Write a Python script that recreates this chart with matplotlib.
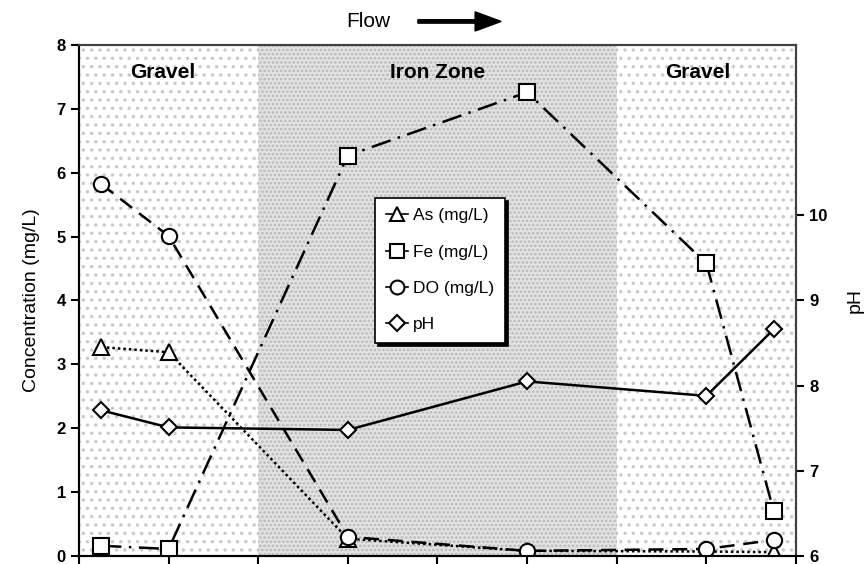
import matplotlib.pyplot as plt
from matplotlib.lines import Line2D
from matplotlib.patches import FancyArrow

plt.rcParams['font.family'] = ['Liberation Sans', 'DejaVu Sans']
plt.rcParams['hatch.linewidth'] = 1.2

# sampling positions along the flow path
dist = [0.25, 1, 3, 5, 7, 7.75]

as_conc = [3.27, 3.19, 0.27, 0.08, 0.07, 0.06]
fe_conc = [0.16, 0.11, 6.27, 7.26, 4.58, 0.71]
do_conc = [5.82, 5.01, 0.30, 0.08, 0.11, 0.25]
ph_vals = [7.71, 7.51, 7.48, 8.05, 7.88, 8.66]

zones = [(0, 2, 'Gravel'), (2, 6, 'Iron Zone'), (6, 8, 'Gravel')]
zone_label_x = [0.93, 4.0, 6.9]

fig = plt.figure(figsize=(8.67, 5.64), dpi=100)
ax = fig.add_axes([0.0911, 0.0142, 0.827, 0.906])

# zone backgrounds
for (x0, x1, name), lx in zip(zones, zone_label_x):
    if name == 'Iron Zone':
        ax.axvspan(x0, x1, facecolor='#e2e2e2', edgecolor='#b8b8b8', hatch='....', lw=0, zorder=0)
    else:
        ax.axvspan(x0, x1, facecolor='white', edgecolor='#c8c8c8', hatch='..', lw=0, zorder=0)
    ax.text(lx, 7.57, name, ha='center', va='center', fontsize=15, fontweight='bold', zorder=5)

mk = dict(markerfacecolor='white', markeredgecolor='black', markeredgewidth=1.5, color='black', lw=1.8)
ax.plot(dist, as_conc, linestyle=(0, (1, 1.2)), marker='^', markersize=11, zorder=3, **mk)
ax.plot(dist, fe_conc, linestyle=(0, (8, 3, 1, 3)), marker='s', markersize=11, zorder=3, **mk)
ax.plot(dist, do_conc, linestyle=(0, (6, 3.5)), marker='o', markersize=11, zorder=3, **mk)

ax.set_xlim(0, 8)
ax.set_ylim(0, 8)
ax.set_xticks(range(9))
ax.set_xticklabels([])
ax.set_yticks(range(9))
ax.tick_params(axis='both', direction='out', length=6, width=1.5, labelsize=12)
for lab in ax.get_yticklabels():
    lab.set_fontweight('bold')
ax.set_ylabel('Concentration (mg/L)', fontsize=14, labelpad=12)

ax2 = ax.twinx()
ax2.plot(dist, ph_vals, linestyle='-', marker='D', markersize=8, zorder=3, **mk)
ax2.set_ylim(6, 12)
ax2.set_yticks([6, 7, 8, 9, 10])
ax2.tick_params(axis='y', direction='out', length=6, width=1.5, labelsize=12)
for lab in ax2.get_yticklabels():
    lab.set_fontweight('bold')
ax2.set_ylabel('pH', fontsize=14, labelpad=14)

for a in (ax, ax2):
    for s in a.spines.values():
        s.set_linewidth(1.5)
    a.spines['top'].set_color('#404040')
    a.spines['right'].set_color('#404040')

leg_mk = {**mk, 'lw': 1.2}
handles = [
    Line2D([], [], linestyle='-', marker='^', markersize=10, label='As (mg/L)', **leg_mk),
    Line2D([], [], linestyle='-', marker='s', markersize=10, label='Fe (mg/L)', **leg_mk),
    Line2D([], [], linestyle='-', marker='o', markersize=10, label='DO (mg/L)', **leg_mk),
    Line2D([], [], linestyle='-', marker='D', markersize=8, label='pH', **leg_mk),
]
leg = ax2.legend(handles=handles, loc='upper left', bbox_to_anchor=(0.413, 0.701),
                 fontsize=12.5, frameon=True, fancybox=False, shadow={'color': 'black', 'alpha': 1},
                 edgecolor='black', framealpha=1, handlelength=1.3, handletextpad=0.3,
                 labelspacing=1.22, borderpad=0.6, borderaxespad=0)
leg.get_frame().set_linewidth(1.2)
leg.set_zorder(10)

# flow direction note above the plot
fig.text(0.425, 0.962, 'Flow', fontsize=15, ha='center', va='center')
fig.patches.append(FancyArrow(
    0.482, 0.962, 0.096, 0, width=0.006, head_width=0.034, head_length=0.03,
    length_includes_head=True, color='black', transform=fig.transFigure, figure=fig))

fig.savefig('out.png', dpi=100)
